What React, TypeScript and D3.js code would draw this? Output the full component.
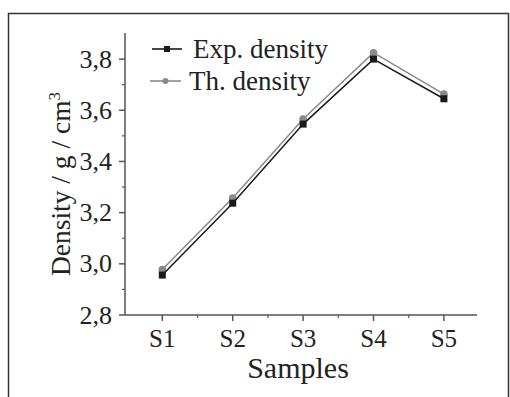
import React, { useEffect, useRef } from 'react';
import * as d3 from 'd3';

const samples = ['S1', 'S2', 'S3', 'S4', 'S5'];
const expDensity = [2.956, 3.237, 3.546, 3.8, 3.645];
const thDensity = [2.978, 3.257, 3.566, 3.825, 3.663];
const yTicks = [2.8, 3.0, 3.2, 3.4, 3.6, 3.8];

const FONT = '"Liberation Serif", "Times New Roman", serif';

export default function App() {
  const ref = useRef<SVGSVGElement>(null);

  useEffect(() => {
    const svg = d3.select(ref.current);
    svg.selectAll('*').remove();

    const width = 510, height = 397;
    const left = 125, right = 477, top = 33, bottom = 315;

    // outer frame (top, left, right edges)
    svg.append('path')
      .attr('d', `M8.5,${height} V13.5 H508.5 V${height}`)
      .attr('fill', 'none')
      .attr('stroke', '#333')
      .attr('stroke-width', 1.5);

    const x = d3.scaleLinear().domain([0.47, 5.47]).range([left, right]);
    const y = d3.scaleLinear().domain([2.8, 3.902]).range([bottom, top]);

    const axisColor = '#555';

    // y axis
    const yAxis = svg.append('g').attr('transform', `translate(${left},0)`);
    yAxis.append('line')
      .attr('y1', top).attr('y2', bottom)
      .attr('stroke', axisColor).attr('stroke-width', 1.5);
    const yMinor = d3.range(2.9, 3.9, 0.2);
    yAxis.selectAll('line.minor').data(yMinor).enter().append('line')
      .attr('class', 'minor')
      .attr('x1', -3).attr('x2', 0)
      .attr('y1', d => y(d)).attr('y2', d => y(d))
      .attr('stroke', axisColor).attr('stroke-width', 1.2);
    yAxis.selectAll('line.major').data(yTicks).enter().append('line')
      .attr('class', 'major')
      .attr('x1', -6).attr('x2', 0)
      .attr('y1', d => y(d)).attr('y2', d => y(d))
      .attr('stroke', axisColor).attr('stroke-width', 1.5);
    yAxis.selectAll('text').data(yTicks).enter().append('text')
      .attr('x', -13)
      .attr('y', d => y(d) + 8.5)
      .attr('text-anchor', 'end')
      .attr('font-family', FONT)
      .attr('font-size', 26)
      .attr('fill', '#222')
      .text(d => d3.format('.1f')(d).replace('.', ','));

    // x axis
    const xAxis = svg.append('g').attr('transform', `translate(0,${bottom})`);
    xAxis.append('line')
      .attr('x1', left).attr('x2', right)
      .attr('stroke', axisColor).attr('stroke-width', 1.5);
    const xMinor = [1.5, 2.5, 3.5, 4.5];
    xAxis.selectAll('line.minor').data(xMinor).enter().append('line')
      .attr('class', 'minor')
      .attr('x1', d => x(d)).attr('x2', d => x(d))
      .attr('y1', 0).attr('y2', 3)
      .attr('stroke', axisColor).attr('stroke-width', 1.2);
    xAxis.selectAll('line.major').data(samples).enter().append('line')
      .attr('class', 'major')
      .attr('x1', (d, i) => x(i + 1)).attr('x2', (d, i) => x(i + 1))
      .attr('y1', 0).attr('y2', 6)
      .attr('stroke', axisColor).attr('stroke-width', 1.5);
    xAxis.selectAll('text').data(samples).enter().append('text')
      .attr('x', (d, i) => x(i + 1))
      .attr('y', 32)
      .attr('text-anchor', 'middle')
      .attr('font-family', FONT)
      .attr('font-size', 25)
      .attr('fill', '#222')
      .text(d => d);

    // axis titles
    svg.append('text')
      .attr('x', (left + right) / 2 - 3)
      .attr('y', 378)
      .attr('text-anchor', 'middle')
      .attr('font-family', FONT)
      .attr('font-size', 30)
      .attr('fill', '#222')
      .text('Samples');

    const yTitle = svg.append('text')
      .attr('transform', `translate(70,${(top + bottom) / 2 + 10}) rotate(-90)`)
      .attr('text-anchor', 'middle')
      .attr('font-family', FONT)
      .attr('font-size', 27.5)
      .attr('fill', '#222');
    yTitle.append('tspan').text('Density / g / cm');
    yTitle.append('tspan').attr('dy', -10).attr('font-size', 17).text('3');

    // series
    const line = d3.line<number>()
      .x((d, i) => x(i + 1))
      .y(d => y(d));

    const series = [
      { name: 'Th. density', values: thDensity, color: '#8a8a8a', marker: 'circle' },
      { name: 'Exp. density', values: expDensity, color: '#1a1a1a', marker: 'square' },
    ];

    series.forEach(s => {
      svg.append('path')
        .datum(s.values)
        .attr('d', line)
        .attr('fill', 'none')
        .attr('stroke', s.color)
        .attr('stroke-width', 1.5);
      if (s.marker === 'square') {
        svg.selectAll(null).data(s.values).enter().append('rect')
          .attr('x', (d, i) => x(i + 1) - 3.5)
          .attr('y', d => y(d) - 3.5)
          .attr('width', 7).attr('height', 7)
          .attr('fill', s.color);
      } else {
        svg.selectAll(null).data(s.values).enter().append('circle')
          .attr('cx', (d, i) => x(i + 1))
          .attr('cy', d => y(d))
          .attr('r', 3.8)
          .attr('fill', s.color);
      }
    });

    // legend
    const legend = [
      { name: 'Exp. density', color: '#1a1a1a', marker: 'square', ly: 49, x1: 152, x2: 182, tx: 193 },
      { name: 'Th. density', color: '#8a8a8a', marker: 'circle', ly: 81, x1: 150, x2: 181, tx: 189 },
    ];
    legend.forEach(l => {
      const g = svg.append('g');
      g.append('line')
        .attr('x1', l.x1).attr('x2', l.x2)
        .attr('y1', l.ly).attr('y2', l.ly)
        .attr('stroke', l.color).attr('stroke-width', 1.6);
      const cx = (l.x1 + l.x2) / 2;
      if (l.marker === 'square') {
        g.append('rect').attr('x', cx - 3).attr('y', l.ly - 3)
          .attr('width', 6).attr('height', 6).attr('fill', l.color);
      } else {
        g.append('circle').attr('cx', cx).attr('cy', l.ly).attr('r', 3).attr('fill', l.color);
      }
      g.append('text')
        .attr('x', l.tx)
        .attr('y', l.ly + 9)
        .attr('font-family', FONT)
        .attr('font-size', 27)
        .attr('fill', '#222')
        .text(l.name);
    });

    svg.attr('width', width).attr('height', height);
  }, []);

  return (
    <svg ref={ref} width={510} height={397}
      style={{ position: 'absolute', left: 0, top: 0, background: '#fff' }} />
  );
}
